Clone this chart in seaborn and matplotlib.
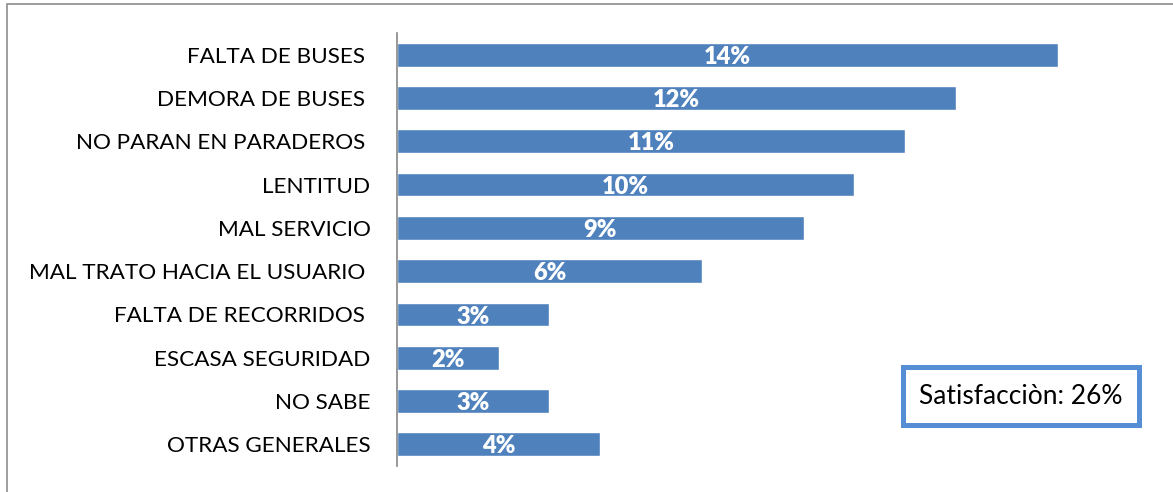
import matplotlib
matplotlib.use("Agg")
import matplotlib.pyplot as plt
import seaborn as sns
import pandas as pd
from matplotlib.patches import Rectangle

categories = ["FALTA DE BUSES ", "DEMORA DE BUSES ", "NO PARAN EN PARADEROS ", "LENTITUD",
              "MAL SERVICIO", "MAL TRATO HACIA EL USUARIO ", "FALTA DE RECORRIDOS ",
              "ESCASA SEGURIDAD", "NO SABE", "OTRAS GENERALES"]
# bar lengths as drawn in the reference
values = [13, 11, 10, 9, 8, 6, 3, 2, 3, 4]
# labels as printed on the bars
value_labels = ["14%", "12%", "11%", "10%", "9%", "6%", "3%", "2%", "3%", "4%"]
note_text = "Satisfacciòn: 26%"

sns.set_style("white")
plt.rcParams["font.family"] = ["Lato", "DejaVu Sans"]

df = pd.DataFrame({"cat": categories, "val": values})

fig = plt.figure(figsize=(11.73, 4.92), dpi=100)
ax = fig.add_axes([397/1173, 1-466/492, (1139-397)/1173, (466-33)/492])

sns.barplot(data=df, x="val", y="cat", orient="h", color="#4F81BD",
            saturation=1, width=0.55, ax=ax)

for t in ax.bar_label(ax.containers[0], labels=value_labels, label_type="center",
                      color="white", fontweight="heavy", fontsize=17):
    t.set_y(-1.5)

ax.set_xlim(0, 14.6)
ax.set_ylim(9.5, -0.5)
ax.set_xlabel("")
ax.set_ylabel("")
ax.set_xticks([])
for s in ["top", "right", "bottom"]:
    ax.spines[s].set_visible(False)
ax.spines["left"].set_color("#868686")
ax.spines["left"].set_linewidth(1.2)
ax.tick_params(axis="y", length=0, pad=19, labelsize=16.2, labelcolor="black")

# note box
fig.text(1021/1173, 1-396/492, note_text, ha="center", va="center", fontsize=19,
         color="black",
         bbox=dict(boxstyle="square,pad=0.62", facecolor="white",
                   edgecolor="#558ED5", linewidth=3.6))

# outer frame (partially visible)
fig.add_artist(Rectangle((7/1173, -0.05), 1.2, 1-4/492+0.05, transform=fig.transFigure,
                         fill=False, edgecolor="#8C8C8C", linewidth=1.2))

fig.savefig("out.png", dpi=100)
